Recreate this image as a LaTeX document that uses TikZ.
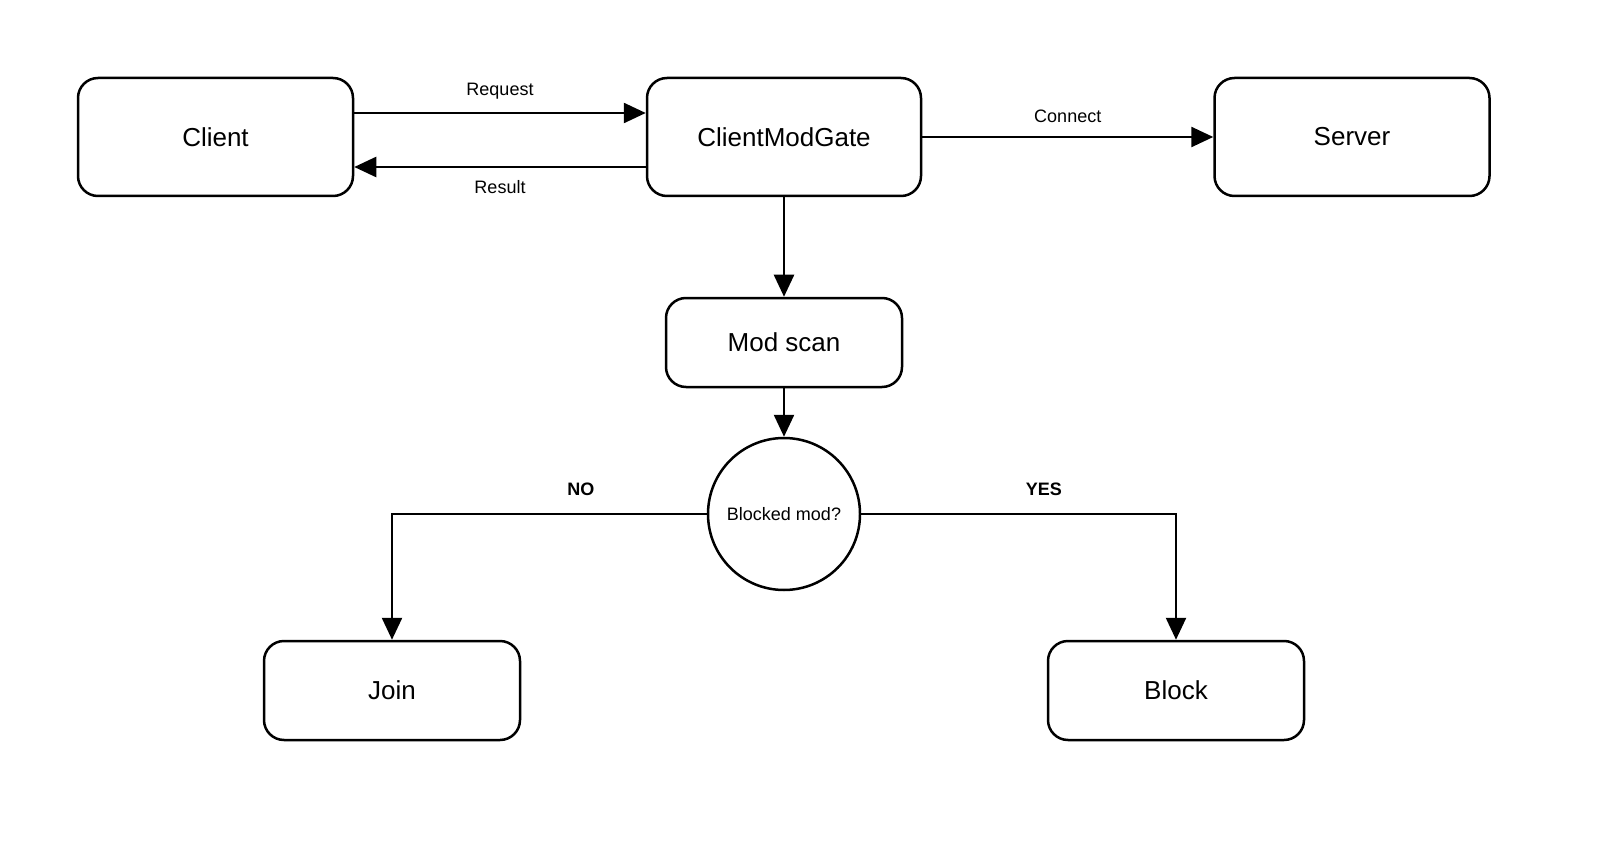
\documentclass[tikz,border=0pt]{standalone}
\usepackage{fontspec}
\setmainfont{Liberation Sans}
\usetikzlibrary{positioning}
\usetikzlibrary{arrows.meta}

\begin{document}
\begin{tikzpicture}[x=0.5pt, y=-0.5pt,
    box/.style={draw, line width=1.25pt, rounded corners=10pt, font=\fontsize{13}{15}\selectfont},
    arr/.style={-{Triangle[width=10pt,length=11pt]}, line width=1.25pt},
    lbl/.style={font=\fontsize{9}{11}\selectfont}]
            \useasboundingbox (0,0) rectangle (1600,850);
            \node[box, minimum width=137.5pt, minimum height=59pt] (client) at (215.5,137) {Client};
            \node[box, minimum width=137pt, minimum height=59pt] (gate) at (784,137) {ClientModGate};
            \node[box, minimum width=137.5pt, minimum height=59pt] (server) at (1352,137) {Server};
            \node[box, minimum width=118pt, minimum height=44.5pt] (scan) at (784,342.5) {Mod scan};
            \node[draw, circle, line width=1.25pt, minimum size=76pt, inner sep=0pt, lbl] (blocked) at (784,514) {Blocked mod?};
            \node[box, minimum width=128pt, minimum height=49.5pt] (join) at (392,690.5) {Join};
            \node[box, minimum width=128pt, minimum height=49.5pt] (block) at (1176,690.5) {Block};

            \draw[arr] (client.east |- 0,113) -- node[lbl, above=3pt] {Request} (gate.west |- 0,113);
            \draw[arr] (gate.west |- 0,167) -- node[lbl, below=3pt] {Result} (client.east |- 0,167);
            \draw[arr] (gate) -- node[lbl, above=3pt] {Connect} (server);
            \draw[arr] (gate) -- (scan);
            \draw[arr] (scan) -- (blocked);
            \draw[arr] (blocked.west) -- node[lbl, above=5pt, pos=0.4, font=\bfseries\fontsize{9}{11}\selectfont] {NO} (join.north |- blocked.west) -- (join.north);
            \draw[arr] (blocked.east) -- node[lbl, above=5pt, pos=0.58, font=\bfseries\fontsize{9}{11}\selectfont] {YES} (block.north |- blocked.east) -- (block.north);
        \end{tikzpicture}
\end{document}
